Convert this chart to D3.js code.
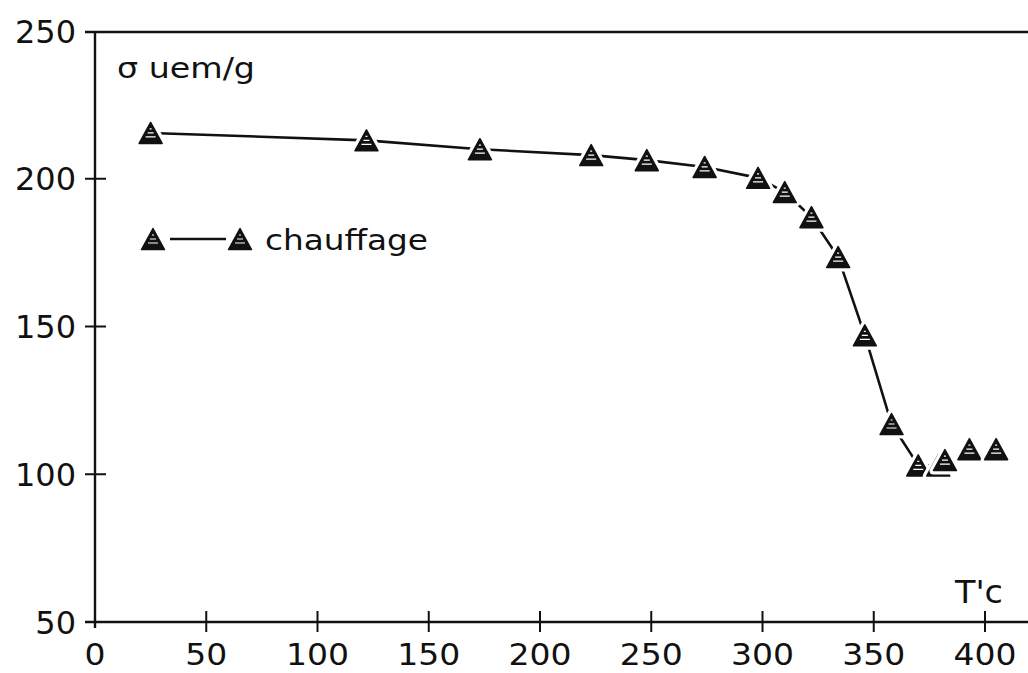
<!DOCTYPE html>
<html><head><meta charset="utf-8">
<script src="https://cdn.jsdelivr.net/npm/d3@7/dist/d3.min.js"></script>
<style>
html,body{margin:0;padding:0;background:#fff;}
svg{display:block;}
text{font-family:"DejaVu Sans",sans-serif;fill:#111;}
</style></head>
<body>
<script>
// ---- data ----
const temperature = [25, 122, 173, 223, 248, 274, 298, 310, 322, 334, 346, 358, 370, 379, 382, 393, 405];
const sigma       = [215.5, 213, 210, 208, 206.3, 204, 200.3, 195.5, 187, 173.5, 147, 117, 103, 103, 104.8, 108.5, 108.5];
const connectedCount = 15; // points joined by the curve
const xTicks = [0, 50, 100, 150, 200, 250, 300, 350, 400];
const yTicks = [50, 100, 150, 200, 250];
const yLabel = "σ uem/g";
const xLabel = "T'c";
const seriesName = "chauffage";

const W = 1028, H = 673;
const svg = d3.select("body").append("svg").attr("width", W).attr("height", H);
svg.append("rect").attr("width", W).attr("height", H).attr("fill", "#fff");

const x = d3.scaleLinear().domain([0, 400]).range([95, 985]);
const y = d3.scaleLinear().domain([50, 250]).range([622, 31]);

const ink = "#111";
const axisW = 2.4;

// frame lines
svg.append("line").attr("x1", x(0) - 10).attr("x2", W).attr("y1", y(50)).attr("y2", y(50))
  .attr("stroke", ink).attr("stroke-width", axisW);
svg.append("line").attr("x1", x(0) - 10).attr("x2", W).attr("y1", y(250) + 1).attr("y2", y(250) + 1)
  .attr("stroke", ink).attr("stroke-width", axisW);
svg.append("line").attr("x1", x(0)).attr("x2", x(0)).attr("y1", y(250)).attr("y2", y(50) + 6)
  .attr("stroke", ink).attr("stroke-width", axisW);

// x ticks (crossing)
svg.selectAll(".xt").data(xTicks.filter(d => d > 0)).enter().append("line")
  .attr("x1", d => x(d)).attr("x2", d => x(d))
  .attr("y1", y(50) - 11).attr("y2", y(50) + 10)
  .attr("stroke", ink).attr("stroke-width", 2);
svg.selectAll(".xl").data(xTicks).enter().append("text")
  .attr("x", d => x(d)).attr("y", 665)
  .attr("text-anchor", "middle").attr("font-size", 30)
  .attr("textLength", d => String(d).length * 21).attr("lengthAdjust", "spacingAndGlyphs")
  .text(d => d);

// y ticks (crossing)
svg.selectAll(".yt").data(yTicks.filter(d => d > 50 && d < 250)).enter().append("line")
  .attr("x1", x(0) - 10).attr("x2", x(0) + 11)
  .attr("y1", d => y(d)).attr("y2", d => y(d))
  .attr("stroke", ink).attr("stroke-width", 2);
svg.selectAll(".yl").data(yTicks).enter().append("text")
  .attr("x", 76).attr("y", d => y(d))
  .attr("dy", "0.36em")
  .attr("text-anchor", "end").attr("font-size", 32)
  .text(d => d);

// axis titles
svg.append("text").attr("x", 117).attr("y", 78).attr("font-size", 28)
  .attr("textLength", 138).attr("lengthAdjust", "spacingAndGlyphs").text(yLabel);
svg.append("text").attr("x", 955).attr("y", 603).attr("font-size", 32)
  .attr("textLength", 48).attr("lengthAdjust", "spacingAndGlyphs").text(xLabel);

// marker shape: triangle centred on its bounding box
function tri(w, h) {
  return `M0,${-h / 2}L${w / 2},${h / 2}L${-w / 2},${h / 2}Z`;
}
const TW = 23, TH = 21;
const hatch = `M-5,4H5M-3,0H3M-1,-4H1`;

const pts = temperature.map((t, i) => ({ t, s: sigma[i] }));

// curve
const line = d3.line().x(d => x(d.t)).y(d => y(d.s));
svg.append("path").datum(pts.slice(0, connectedCount))
  .attr("d", line).attr("fill", "none")
  .attr("stroke", ink).attr("stroke-width", 2.6)
  .attr("stroke-linejoin", "round");

// markers with white halo (gap in curve)
const mk = svg.selectAll(".mk").data(pts).enter().append("g")
  .attr("transform", d => `translate(${x(d.t)},${y(d.s)})`);
mk.append("path").attr("d", tri(TW, TH)).attr("fill", "#fff")
  .attr("stroke", "#fff").attr("stroke-width", 8).attr("stroke-linejoin", "round");
mk.append("path").attr("d", tri(TW, TH)).attr("fill", ink)
  .attr("stroke", ink).attr("stroke-width", 1.5).attr("stroke-linejoin", "round");
mk.append("path").attr("d", hatch).attr("stroke", "#fff").attr("stroke-width", 1.2);

// legend
const lg = svg.append("g");
const ly = 239;
lg.append("line").attr("x1", 170).attr("x2", 226).attr("y1", ly).attr("y2", ly)
  .attr("stroke", ink).attr("stroke-width", 2.6);
[153, 240].forEach(cx => {
  lg.append("path").attr("transform", `translate(${cx},${ly})`).attr("d", tri(TW, TH)).attr("fill", ink)
    .attr("stroke", ink).attr("stroke-width", 1.5).attr("stroke-linejoin", "round");
  lg.append("path").attr("transform", `translate(${cx},${ly})`).attr("d", hatch)
    .attr("stroke", "#fff").attr("stroke-width", 1.2);
});
lg.append("text").attr("x", 265).attr("y", 250).attr("font-size", 28)
  .attr("textLength", 163).attr("lengthAdjust", "spacingAndGlyphs").text(seriesName);
</script>
</body></html>
